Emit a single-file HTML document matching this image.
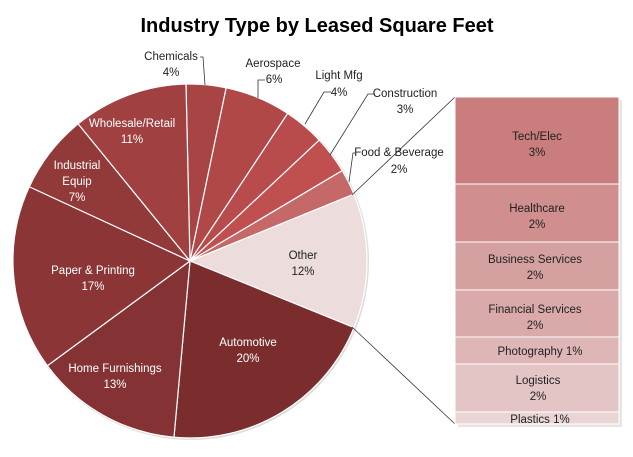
<!DOCTYPE html>
<html><head><style>
body{margin:0;background:#fff;}
svg text{font-family:"Liberation Sans",sans-serif;}
</style></head><body>
<svg width="633" height="452" viewBox="0 0 633 452" xmlns="http://www.w3.org/2000/svg">
<text x="317" y="32" text-anchor="middle" font-size="20" font-weight="bold" fill="#000">Industry Type by Leased  Square Feet</text>
<circle cx="191" cy="262" r="178" fill="#ddd"/>
<g stroke="#fff" stroke-width="1.2">
<path d="M190,261 L185.98,84.05 A177,177 0 0 1 226.20,87.74 Z" fill="#a84444"/>
<path d="M190,261 L226.20,87.74 A177,177 0 0 1 287.69,113.40 Z" fill="#b04848"/>
<path d="M190,261 L287.69,113.40 A177,177 0 0 1 319.27,140.10 Z" fill="#b84c4c"/>
<path d="M190,261 L319.27,140.10 A177,177 0 0 1 342.21,170.63 Z" fill="#c05050"/>
<path d="M190,261 L342.21,170.63 A177,177 0 0 1 353.88,194.12 Z" fill="#c46868"/>
<path d="M190,261 L353.88,194.12 A177,177 0 0 1 353.99,327.59 Z" fill="#eddcdc"/>
<path d="M190,261 L353.99,327.59 A177,177 0 0 1 173.96,437.27 Z" fill="#7b2d2e"/>
<path d="M190,261 L173.96,437.27 A177,177 0 0 1 47.35,365.79 Z" fill="#843233"/>
<path d="M190,261 L47.35,365.79 A177,177 0 0 1 29.32,186.76 Z" fill="#8c3536"/>
<path d="M190,261 L29.32,186.76 A177,177 0 0 1 78.13,123.83 Z" fill="#923a3a"/>
<path d="M190,261 L78.13,123.83 A177,177 0 0 1 185.98,84.05 Z" fill="#a04040"/>
</g>
<g fill="#fff" font-size="11.5" text-anchor="middle">
<text x="132" y="127">Wholesale/Retail</text><text x="132" y="143">11%</text>
<text x="77" y="169">Industrial</text><text x="77" y="185">Equip</text><text x="77" y="201">7%</text>
<text x="93" y="274">Paper &amp; Printing</text><text x="93" y="290">17%</text>
<text x="115" y="372">Home  Furnishings</text><text x="115" y="388">13%</text>
<text x="248" y="346">Automotive</text><text x="248" y="362">20%</text>
</g>
<g fill="#222" font-size="11.5" text-anchor="middle">
<text x="303" y="259">Other</text><text x="303" y="275">12%</text>
<text x="171" y="60">Chemicals</text><text x="171" y="76">4%</text>
<text x="273" y="67">Aerospace</text><text x="274" y="83">6%</text>
<text x="339" y="79">Light Mfg</text><text x="339" y="96">4%</text>
<text x="405" y="97">Construction</text><text x="405" y="113">3%</text>
<text x="399" y="156">Food &amp; Beverage</text><text x="399" y="173">2%</text>
</g>
<g stroke="#333" stroke-width="0.8" fill="none">
<polyline points="200,57 203,57 205,85"/>
<polyline points="265,80 258,80 258,98"/>
<polyline points="331,92 324,92 305,124"/>
<polyline points="375,94 368,94 330,155"/>
<polyline points="356,153 353,153 349,182"/>
<line x1="352" y1="195" x2="455" y2="97"/>
<line x1="352" y1="327" x2="455" y2="424"/>
</g>
<rect x="458" y="100" width="164" height="327" fill="#ccc" opacity="0.5"/>
<g stroke="#fff" stroke-width="1">
<rect x="455" y="97" width="164" height="87" fill="#c97d7d"/>
<rect x="455" y="184" width="164" height="58" fill="#d08e8e"/>
<rect x="455" y="242" width="164" height="48" fill="#d5a0a0"/>
<rect x="455" y="290" width="164" height="47" fill="#daaaaa"/>
<rect x="455" y="337" width="164" height="27" fill="#dfb6b6"/>
<rect x="455" y="364" width="164" height="48" fill="#e4c5c5"/>
<rect x="455" y="412" width="164" height="12" fill="#ead4d4"/>
</g>
<g fill="#222" font-size="11.5" text-anchor="middle">
<text x="537" y="140">Tech/Elec</text><text x="537" y="156">3%</text>
<text x="537" y="212">Healthcare</text><text x="537" y="228">2%</text>
<text x="535" y="263">Business Services</text><text x="535" y="279">2%</text>
<text x="535" y="313">Financial Services</text><text x="535" y="329">2%</text>
<text x="540" y="355">Photography 1%</text>
<text x="538" y="384">Logistics</text><text x="538" y="400">2%</text>
<text x="540" y="423">Plastics 1%</text>
</g>
</svg>
</body></html>
